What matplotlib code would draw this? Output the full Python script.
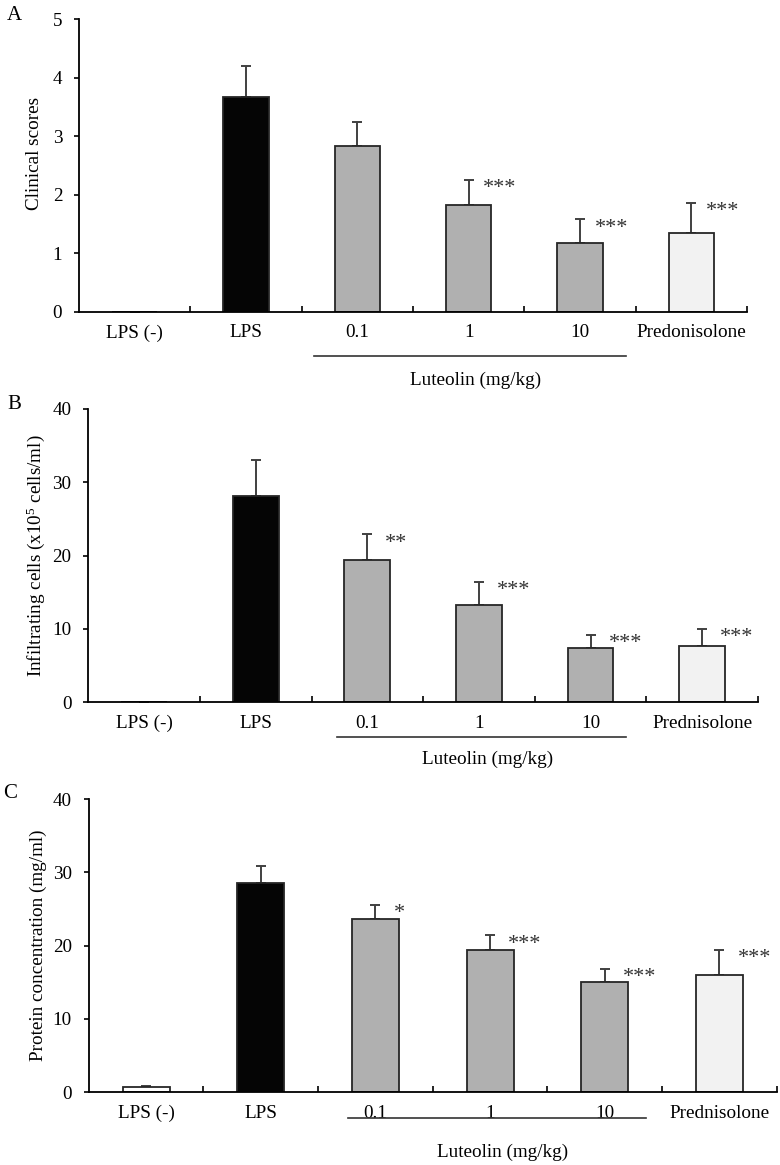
import numpy as np
import matplotlib
matplotlib.use('Agg')
import matplotlib.pyplot as plt

plt.rcParams['font.family'] = ['Liberation Serif', 'DejaVu Serif']
plt.rcParams['mathtext.fontset'] = 'custom'
plt.rcParams['mathtext.rm'] = 'Liberation Serif'
plt.rcParams['mathtext.it'] = 'Liberation Serif'

# data
labels_a = ['LPS (-)', 'LPS', '0.1', '1', '10', 'Predonisolone']
labels_bc = ['LPS (-)', 'LPS', '0.1', '1', '10', 'Prednisolone']

scores = [0, 3.67, 2.84, 1.83, 1.17, 1.34]
scores_err = [0, 0.52, 0.41, 0.42, 0.41, 0.52]
scores_sig = ['', '', '', '***', '***', '***']

cells = [0, 28.2, 19.45, 13.3, 7.45, 7.7]
cells_err = [0, 4.8, 3.45, 3.1, 1.75, 2.3]
cells_sig = ['', '', '**', '***', '***', '***']

protein = [0.72, 28.55, 23.7, 19.4, 15.1, 16.05]
protein_err = [0.13, 2.35, 1.9, 2.0, 1.75, 3.4]
protein_sig = ['', '', '*', '***', '***', '***']

colors = ['white', '#050505', '#b0b0b0', '#b0b0b0', '#b0b0b0', '#f2f2f2']

W, H = 780, 1165
fig = plt.figure(figsize=(W / 100, H / 100), dpi=100)


def panel(rect_px, letter, letter_px, values, errs, sigs, labels, ymax, ystep,
          ylabel, ylabel_xy, line_span, line_px, lab_px, sig_dx):
    left, top, right, bottom = rect_px
    ax = fig.add_axes([left / W, 1 - bottom / H, (right - left) / W, (bottom - top) / H])
    x = np.arange(len(values))
    ax.bar(x, values, width=0.41, color=colors, edgecolor='#262626', linewidth=1.3, zorder=2)
    ax.errorbar(x, values, yerr=[np.zeros(len(errs)), errs], fmt='none',
                ecolor='#404040', elinewidth=1.4, capsize=3.5, capthick=1.4, zorder=1)
    for xi, v, e, s in zip(x, values, errs, sigs):
        if s:
            ax.annotate(s, (xi + sig_dx, v + e), xytext=(0, -9.5), textcoords='offset points',
                        ha='left', va='baseline', fontsize=16, color='#333333')
    ax.set_xlim(-0.5, len(values) - 0.5)
    ax.set_ylim(0, ymax)
    ax.set_yticks(np.arange(0, ymax + 0.01, ystep))
    ax.set_xticks(x)
    ax.set_xticklabels(labels)
    ax.set_xticks(np.arange(0.5, len(values), 1.0), minor=True)
    ax.tick_params(axis='x', which='major', length=0, pad=9, labelsize=13.8)
    ax.tick_params(axis='x', which='minor', direction='in', length=4.5, width=1.2)
    ax.tick_params(axis='y', direction='out', length=3.6, width=1.2, pad=8.5, labelsize=13.8)
    for side in ['top', 'right']:
        ax.spines[side].set_visible(False)
    for side in ['left', 'bottom']:
        ax.spines[side].set_linewidth(1.3)
    ax.set_ylabel(ylabel, fontsize=13.8)
    ax.yaxis.set_label_coords(*ylabel_xy)
    h = bottom - top
    tr = ax.get_xaxis_transform()
    ax.plot(line_span, [-line_px / h] * 2, transform=tr, clip_on=False,
            color='#333333', lw=1.2)
    ax.text(np.mean(line_span) + 0.05, -lab_px / h, 'Luteolin (mg/kg)', transform=tr,
            ha='center', va='center', fontsize=13.8)
    fig.text(letter_px[0] / W, 1 - letter_px[1] / H, letter, ha='left', va='center',
             fontsize=15)
    return ax


panel((79, 19, 747, 312), 'A', (7, 15), scores, scores_err, scores_sig, labels_a,
      5, 1, 'Clinical scores', (-0.054, 0.54), [1.61, 4.41], 44, 68, 0.13)
panel((88.3, 409, 758, 702.3), 'B', (7, 405), cells, cells_err, cells_sig, labels_bc,
      40, 10, r'Infiltrating cells (x10$^5$ cells/ml)', (-0.062, 0.5), [1.73, 4.32], 34.4, 57, 0.16)
panel((88.7, 799, 776.7, 1092.3), 'C', (3, 793), protein, protein_err, protein_sig, labels_bc,
      40, 10, 'Protein concentration (mg/ml)', (-0.060, 0.5), [1.76, 4.36], 25.4, 60, 0.16)

fig.savefig('out.png', dpi=100)
